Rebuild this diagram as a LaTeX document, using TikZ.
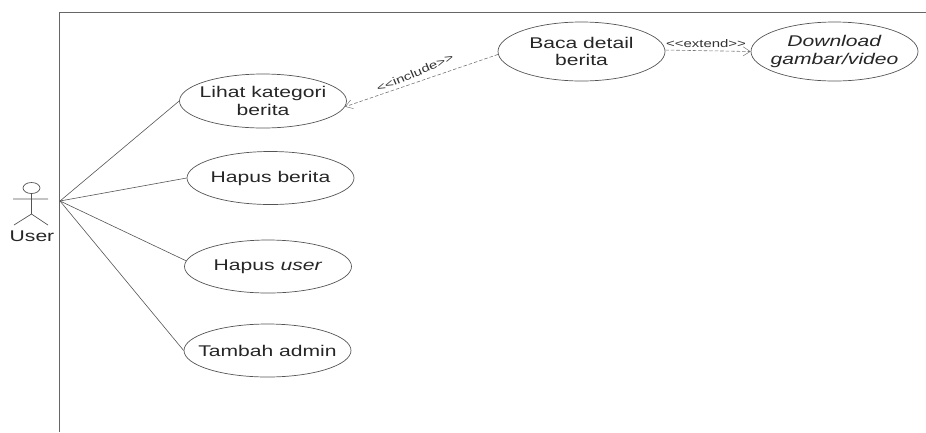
\documentclass[tikz,border=0pt]{standalone}
\usepackage{fontspec}
\setmainfont[FakeStretch=1.36]{Liberation Sans}
\usetikzlibrary{arrows.meta,shapes.geometric}
\definecolor{ln}{gray}{0.33}
\tikzset{
  x=1pt,y=-1pt,
  usecase/.style={ellipse,draw=ln,line width=0.7pt,minimum width=#1,minimum height=53pt,inner xsep=-30pt,inner ysep=-12pt,align=center,font=\fontsize{15.5pt}{17.5pt}\selectfont,text=black!85},
  usecase/.default=167pt,
  assoc/.style={draw=ln,line width=0.6pt},
  dep/.style={draw=ln!80,line width=0.6pt,dashed,dash pattern=on 3.5pt off 2pt,-{Straight Barb[length=7pt,width=9pt,line width=0.5pt]}},
  deplabel/.style={font=\fontsize{11pt}{13pt}\selectfont,text=black!80,inner sep=0pt},
  frameln/.style={draw=black!60,line width=0.9pt},
  actorln/.style={draw=ln,line width=0.7pt}
}
\begin{document}
\begin{tikzpicture}
\useasboundingbox (0,0) rectangle (926,432);
\coordinate (fa) at (59,432);
\coordinate (fb) at (59,12);
\coordinate (fc) at (926,12);
\draw[frameln] (fa) -- (fb) -- (fc);
% actor
\coordinate (head) at (31.5,188);
\coordinate (neck) at (31.5,193.5);
\coordinate (armL) at (13,199);
\coordinate (armR) at (48,199);
\coordinate (hip) at (31.5,214);
\coordinate (legL) at (14,225);
\coordinate (legR) at (48,225);
\coordinate (actor) at (60,201);
\draw[actorln] (head) ellipse [x radius=8.5pt,y radius=5.5pt];
\draw[actorln] (neck) -- (hip) (armL) -- (armR) (legL) -- (hip) -- (legR);
\node[font=\fontsize{15.5pt}{17pt}\selectfont,text=black!85,inner sep=0pt] (user) at (32,236) {User};
% use cases
\node[usecase,minimum height=54pt] (lihat) at (263,101) {Lihat kategori\\berita};
\node[usecase] (hberita) at (270.5,178) {Hapus berita};
\node[usecase] (huser) at (268,266.5) {Hapus \textit{user}};
\node[usecase] (tambah) at (267.5,350.5) {Tambah admin};
\node[usecase,minimum height=59pt] (baca) at (581.5,51.5) {Baca detail\\berita};
\node[usecase,minimum height=59pt] (down) at (834.5,51.5) {\textit{Download}\\\textit{gambar/video}};
% associations
\draw[assoc] (actor) -- (lihat.west);
\draw[assoc] (actor) -- (hberita.west);
\draw[assoc] (actor) -- (huser.176);
\draw[assoc] (actor) -- (tambah.west);
% dependencies
\draw[dep] (baca.182) -- (lihat.-4);
\draw[dep] (baca.1) -- (down.west);
\node[deplabel,rotate=23] (inc) at (415,73) {{<}{<}include{>}{>}};
\node[deplabel] (ext) at (706,43.5) {{<}{<}extend{>}{>}};
\end{tikzpicture}
\end{document}
